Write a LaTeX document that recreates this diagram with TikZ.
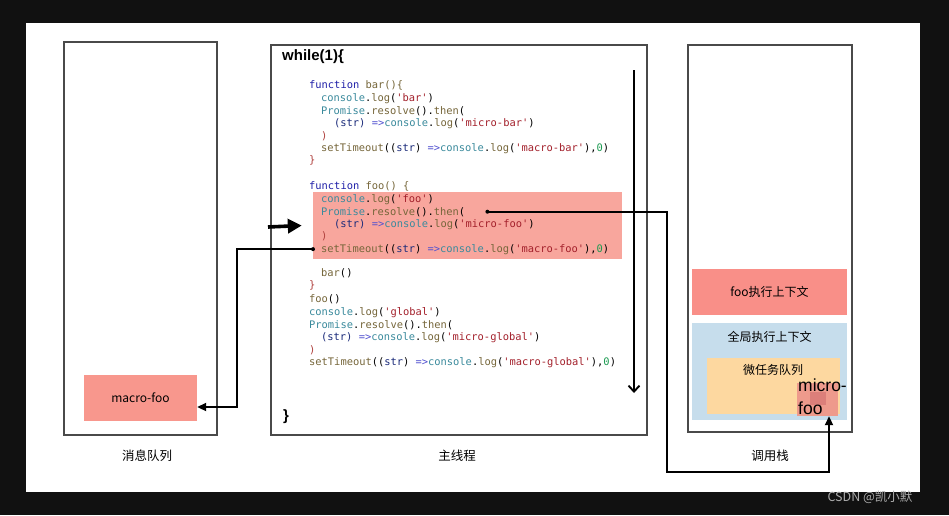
\documentclass[tikz,border=0pt]{standalone}
\usepackage{fontspec}
\setmainfont{Liberation Sans}
\setmonofont{DejaVu Sans Mono}
\newfontfamily\cjk{Noto Sans CJK SC}
\usetikzlibrary{arrows.meta,positioning}
\definecolor{framec}{HTML}{111111}
\definecolor{linec}{HTML}{4A4A4A}
\definecolor{taskc}{HTML}{F8978D}
\definecolor{hlc}{HTML}{F8A69D}
\definecolor{fooc}{HTML}{F98F88}
\definecolor{globc}{HTML}{C6DDEC}
\definecolor{microc}{HTML}{FDD8A0}
\definecolor{mfc}{HTML}{EE9A8C}
\definecolor{mfdc}{HTML}{DC7F7A}
\definecolor{kwc}{HTML}{1F1FA8}
\definecolor{objc}{HTML}{3A8A9C}
\definecolor{fnc}{HTML}{76663A}
\definecolor{strc}{HTML}{A3202B}
\definecolor{argc}{HTML}{1B2B7A}
\definecolor{opc}{HTML}{5050D0}
\definecolor{numc}{HTML}{1A9A50}
\definecolor{brc}{HTML}{B0413E}
\newcommand\jkw[1]{\textcolor{kwc}{#1}}
\newcommand\jobj[1]{\textcolor{objc}{#1}}
\newcommand\jfn[1]{\textcolor{fnc}{#1}}
\newcommand\jstr[1]{\textcolor{strc}{#1}}
\newcommand\jarg[1]{\textcolor{argc}{#1}}
\newcommand\jop[1]{\textcolor{opc}{#1}}
\newcommand\jnum[1]{\textcolor{numc}{#1}}
\newcommand\jbr[1]{\textcolor{brc}{#1}}
\tikzset{
  panel/.style={draw=linec,line width=1.3pt,fill=white,inner sep=0pt},
  tile/.style={inner sep=0pt,font=\cjk\fontsize{12}{14}\selectfont},
  tag/.style={font=\cjk\fontsize{12.5}{15}\selectfont},
  codeln/.style={anchor=base west,inner sep=0pt,font=\ttfamily\fontsize{10.4}{12}\selectfont},
  brace/.style={anchor=west,inner sep=0pt,font=\bfseries\fontsize{15}{18}\selectfont},
  link/.style={-{Triangle[length=9pt,width=8pt]},line width=1.9pt,black},
  bigar/.style={-{Triangle[length=14pt,width=14pt]},line width=3.6pt,black},
  flow/.style={-{Straight Barb[length=6pt,width=11pt]},line width=1.9pt,black}
}
\begin{document}
\begin{tikzpicture}[x=1pt,y=-1pt]
\fill[framec] (0,0) rectangle (949,515);
\fill[white] (26,23) rectangle (920,492);
% three columns
\node[panel,minimum width=153,minimum height=393] (mq) at (140.5,238.5) {};
\node[panel,minimum width=376,minimum height=390] (mt) at (459,240) {};
\node[panel,minimum width=164,minimum height=387] (cs) at (770,238.5) {};
\node[tag] (mqlbl) at (147,456) {消息队列};
\node[tag] (mtlbl) at (457,456) {主线程};
\node[tag] (cslbl) at (770,456) {调用栈};
% message queue
\node[tile,fill=taskc,minimum width=113,minimum height=46] (mfoo) at (140.5,398) {macro-foo};
% call stack
\node[tile,fill=fooc,minimum width=155,minimum height=46] (fctx) at (769.5,292) {foo执行上下文};
\node[tile,fill=globc,minimum width=155,minimum height=97] (gctx) at (769.5,371.5) {};
\node[tile] (gctxlbl) at (769.5,337) {全局执行上下文};
\node[tile,fill=microc,minimum width=133,minimum height=56] (mq2) at (773.5,386) {};
\node[tile] (mq2lbl) at (773,370) {微任务队列};
\node[fill=mfc,minimum width=41,minimum height=33,inner sep=0pt] (mf) at (817.5,399.5) {};
\fill[mfdc] (810,392) rectangle (826,405);
\node[anchor=north west,align=left,inner sep=0pt,font=\fontsize{17.5}{23}\selectfont] (mftxt) at (798,379) {micro-\\foo};
% main thread code
\node[fill=hlc,minimum width=309,minimum height=67,inner sep=0pt] (hl) at (467.5,225.5) {};
\node[brace] (wh) at (282,57) {while(1)\{};
\node[brace] (wend) at (283,417) {\}};
\node[codeln] (c1) at (309,88) {\jkw{function} \jfn{bar()\{}};
\node[codeln] (c2) at (321,101) {\jobj{console}.\jfn{log}(\jstr{'bar'})};
\node[codeln] (c3) at (321,114) {\jobj{Promise}.\jfn{resolve}().\jfn{then}(};
\node[codeln] (c4) at (334,126) {\jarg{(str)} \jop{=>}\jobj{console}.\jfn{log}(\jstr{'micro-bar'})};
\node[codeln] (c5) at (321,139) {\jbr{)}};
\node[codeln] (c6) at (321,151) {\jfn{setTimeout}((\jarg{str}) \jop{=>}\jobj{console}.\jfn{log}(\jstr{'macro-bar'}),\jnum{0})};
\node[codeln] (c7) at (309,163) {\jbr{\}}};
\node[codeln] (c8) at (309,189) {\jkw{function} \jfn{foo() \{}};
\node[codeln] (c9) at (321,202) {\jobj{console}.\jfn{log}(\jstr{'foo'})};
\node[codeln] (c10) at (321,215) {\jobj{Promise}.\jfn{resolve}().\jfn{then}(};
\node[codeln] (c11) at (334,227) {\jarg{(str)} \jop{=>}\jobj{console}.\jfn{log}(\jstr{'micro-foo'})};
\node[codeln] (c12) at (321,239) {\jbr{)}};
\node[codeln] (c13) at (321,252) {\jfn{setTimeout}((\jarg{str}) \jop{=>}\jobj{console}.\jfn{log}(\jstr{'macro-foo'}),\jnum{0})};
\node[codeln] (c14) at (321,276) {\jfn{bar}()};
\node[codeln] (c15) at (309,288) {\jbr{\}}};
\node[codeln] (c16) at (309,302) {\jfn{foo}()};
\node[codeln] (c17) at (309,315) {\jobj{console}.\jfn{log}(\jstr{'global'})};
\node[codeln] (c18) at (309,328) {\jobj{Promise}.\jfn{resolve}().\jfn{then}(};
\node[codeln] (c19) at (321,340) {\jarg{(str)} \jop{=>}\jobj{console}.\jfn{log}(\jstr{'micro-global'})};
\node[codeln] (c20) at (309,353) {\jbr{)}};
\node[codeln] (c21) at (309,365) {\jfn{setTimeout}((\jarg{str}) \jop{=>}\jobj{console}.\jfn{log}(\jstr{'macro-global'}),\jnum{0})};
% loop direction
\coordinate (flowtop) at (634,70);
\coordinate (flowbot) at (634,393);
\draw[flow] (flowtop) -- (flowbot);
% current position
\coordinate (pc) at (268,227);
\draw[bigar] (pc) -- ([xshift=-11pt]hl.west);
% setTimeout -> message queue
\coordinate (macfrom) at ([xshift=-8pt]c13.west);
\fill (macfrom) circle (2pt);
\draw[link] (macfrom) -- ++(-76,0) |- ([yshift=-9pt]mfoo.east);
% promise -> micro task queue
\coordinate (micfrom) at ([xshift=22pt]c10.east);
\coordinate (loopb) at (667,472);
\fill (micfrom) circle (2pt);
\draw[link] (micfrom) -| (loopb) -| ([xshift=11.5pt]mf.south);
\node[font=\cjk\fontsize{12.5}{15}\selectfont,text=gray!65] (mark) at (870,497) {CSDN @凯小默};
\end{tikzpicture}
\end{document}
